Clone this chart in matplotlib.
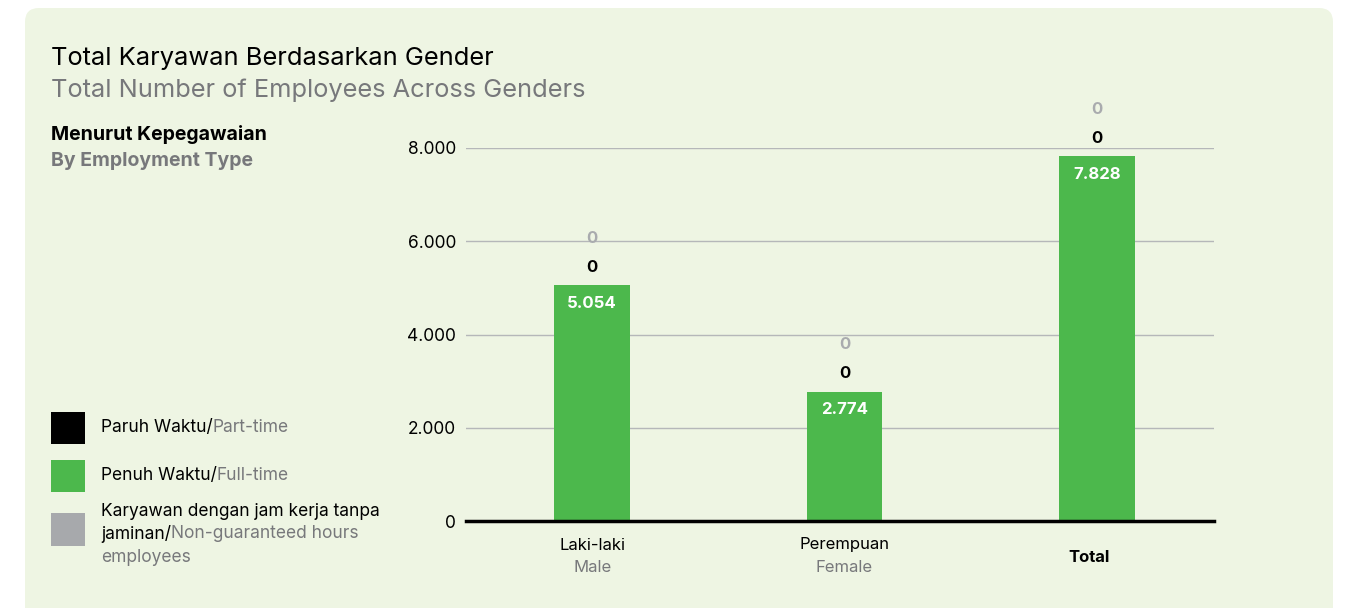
import matplotlib.pyplot as plt
import matplotlib.patches as mpatches
from matplotlib.transforms import IdentityTransform

plt.rcParams['font.family'] = ['Inter', 'DejaVu Sans']

kategori = ["Laki-laki", "Perempuan", "Total"]
kategori_en = ["Male", "Female", ""]
penuh_waktu = [5054, 2774, 7828]
paruh_waktu = [0, 0, 0]
tanpa_jaminan = [0, 0, 0]
yticks = [0, 2000, 4000, 6000, 8000]
ytick_labels = ["0", "2.000", "4.000", "6.000", "8.000"]

hijau = "#4cb84c"
abu = "#a7a9ac"
abu_teks = "#77787b"
bg = "#eef5e3"

W, H = 1351, 608
fig = plt.figure(figsize=(W / 100, H / 100), dpi=100)
fig.patch.set_facecolor("white")

panel = mpatches.FancyBboxPatch((25, -30), 1308, H - 8 + 30,
                                boxstyle="round,pad=0,rounding_size=14",
                                transform=IdentityTransform(),
                                facecolor=bg, edgecolor="none", zorder=-10)
fig.patches.append(panel)


def fy(y):
    return 1 - y / H


def fx(x):
    return x / W


fig.text(fx(51), fy(58), "Total Karyawan Berdasarkan Gender", fontsize=18.3,
         color="black", va="center")
fig.text(fx(51), fy(90), "Total Number of Employees Across Genders", fontsize=18.3,
         color=abu_teks, va="center")
fig.text(fx(51), fy(134), "Menurut Kepegawaian", fontsize=14, fontweight="bold",
         color="black", va="center")
fig.text(fx(51), fy(161), "By Employment Type", fontsize=14, fontweight="bold",
         color=abu_teks, va="center")

# legend
legend_items = [
    ("black", 412, [("Paruh Waktu/", "black"), ("Part-time", abu_teks)]),
    (hijau, 460, [("Penuh Waktu/", "black"), ("Full-time", abu_teks)]),
]
for warna, ytop, parts in legend_items:
    fig.patches.append(mpatches.Rectangle((51, H - ytop - 32), 34, 32,
                                          transform=IdentityTransform(),
                                          facecolor=warna, edgecolor="none"))
    t = fig.text(fx(101), fy(ytop + 16), parts[0][0], fontsize=12.5, color=parts[0][1], va="center")
    fig.canvas.draw()
    bb = t.get_window_extent()
    fig.text(bb.x1 / W, fy(ytop + 16), parts[1][0], fontsize=12.5, color=parts[1][1], va="center")

fig.patches.append(mpatches.Rectangle((51, H - 513 - 33), 34, 33,
                                      transform=IdentityTransform(),
                                      facecolor=abu, edgecolor="none"))
fig.text(fx(101), fy(511), "Karyawan dengan jam kerja tanpa", fontsize=12.5, color="black", va="center")
t = fig.text(fx(101), fy(534), "jaminan/", fontsize=12.5, color="black", va="center")
fig.canvas.draw()
bb = t.get_window_extent()
fig.text(bb.x1 / W, fy(534), "Non-guaranteed hours", fontsize=12.5, color=abu_teks, va="center")
fig.text(fx(101), fy(557), "employees", fontsize=12.5, color=abu_teks, va="center")

# chart
ax = fig.add_axes([466 / W, (H - 521) / H, 748 / W, (521 - 148) / H])
ax.set_facecolor("none")
x = list(range(len(kategori)))
ax.bar(x, penuh_waktu, width=0.30, color=hijau, zorder=3)
ax.set_xlim(-0.5, 2.464)
ax.set_ylim(0, 8000)
ax.set_yticks(yticks)
ax.set_yticklabels(ytick_labels)
ax.tick_params(axis="y", length=0, pad=7, labelsize=12.5, labelcolor="black")
ax.tick_params(axis="x", length=0, labelbottom=False)
ax.grid(axis="y", color="#b5b7b9", linewidth=1, zorder=0)
for s in ["top", "right", "left"]:
    ax.spines[s].set_visible(False)
ax.spines["bottom"].set_linewidth(2.5)
ax.spines["bottom"].set_color("black")
ax.spines["bottom"].set_zorder(4)

px = (521 - 148) / 8000  # pixels per unit
for i, v in enumerate(penuh_waktu):
    ax.text(i, v - 18 / px, f"{v:,}".replace(",", "."), ha="center", va="center",
            color="white", fontsize=12, fontweight="bold", zorder=5)
    ax.text(i, v + 18 / px, str(paruh_waktu[i]), ha="center", va="center",
            color="black", fontsize=12, fontweight="bold", clip_on=False)
    ax.text(i, v + 47 / px, str(tanpa_jaminan[i]), ha="center", va="center",
            color="#a9abae", fontsize=12, fontweight="bold", clip_on=False)

for i, (k, e) in enumerate(zip(kategori, kategori_en)):
    if k == "Total":
        ax.text(i - 0.03, -36 / px, k, ha="center", va="center", fontsize=12,
                fontweight="bold", color="black", clip_on=False)
    else:
        ax.text(i, -24 / px, k, ha="center", va="center", fontsize=12,
                color="black", clip_on=False)
        ax.text(i, -47 / px, e, ha="center", va="center", fontsize=12,
                color=abu_teks, clip_on=False)

fig.savefig("out.png", dpi=100, facecolor=fig.get_facecolor())
